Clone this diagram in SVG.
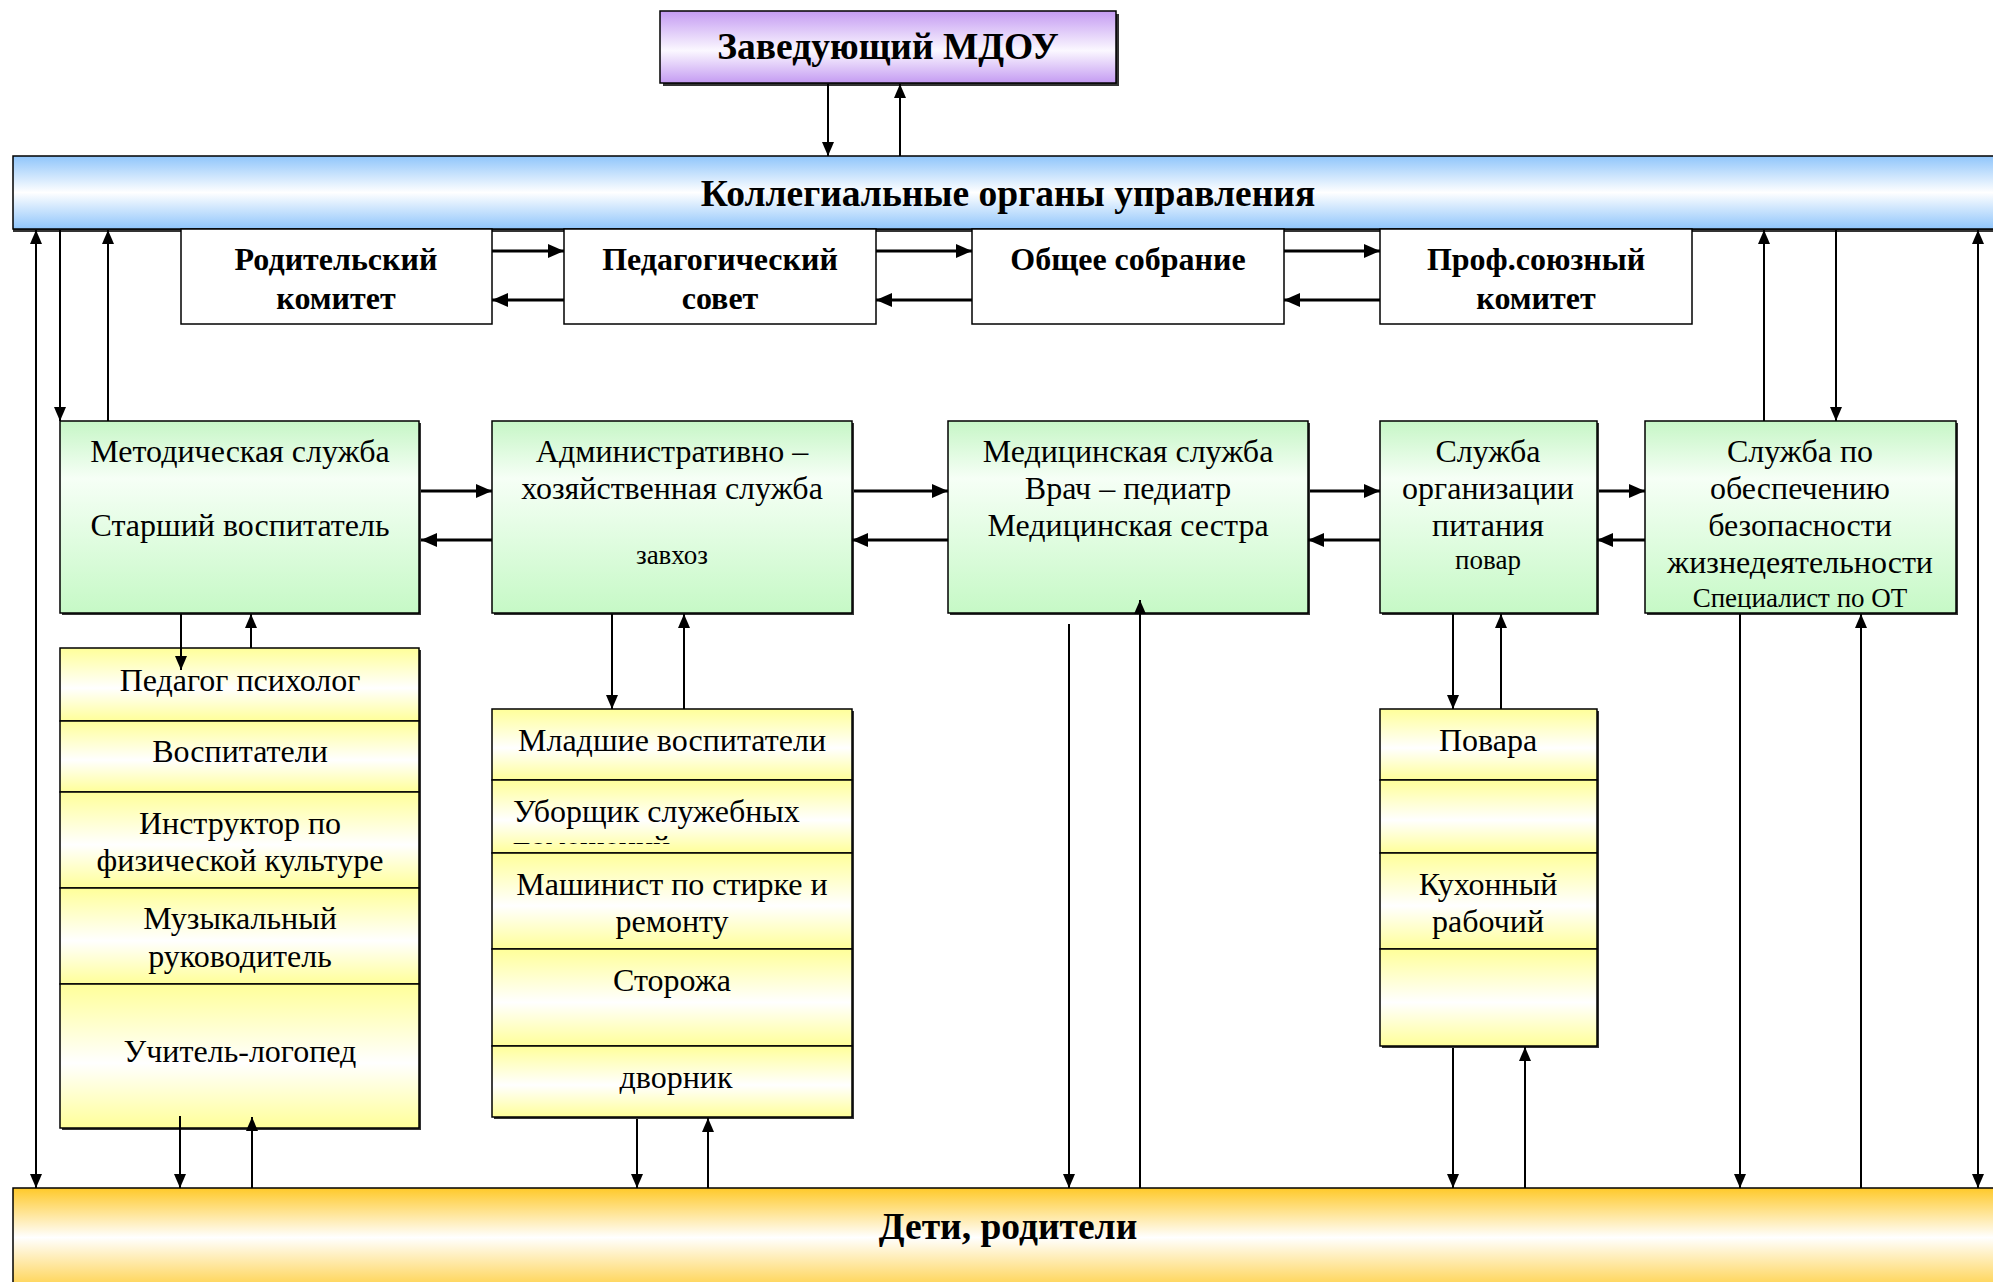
<svg xmlns="http://www.w3.org/2000/svg" width="1993" height="1282" viewBox="0 0 1993 1282">
<defs>
<style>
text{font-family:"Liberation Serif","Times New Roman",serif;fill:#000;text-anchor:middle}
.b{font-weight:bold}
.t36{font-size:37.5px}
.t32{font-size:32px}
.s{font-size:27px}
.box{stroke:#000;stroke-width:1.5}
.sh{fill:#333}
.ln{stroke:#000;stroke-width:2;fill:none}
.lnb{stroke:#000;stroke-width:3;fill:none}
</style>
<linearGradient id="gPurple" x1="0" y1="0" x2="0" y2="1">
<stop offset="0" stop-color="#c49bf2"/><stop offset="0.55" stop-color="#fbf8ff"/><stop offset="1" stop-color="#c49bf2"/>
</linearGradient>
<linearGradient id="gBlue" x1="0" y1="0" x2="0" y2="1">
<stop offset="0" stop-color="#8fc5fb"/><stop offset="0.5" stop-color="#ffffff"/><stop offset="1" stop-color="#8fc5fb"/>
</linearGradient>
<linearGradient id="gGreen" x1="0" y1="0" x2="0" y2="1">
<stop offset="0" stop-color="#c6f6c6"/><stop offset="0.3" stop-color="#f6fff6"/><stop offset="1" stop-color="#c6f9c6"/>
</linearGradient>
<linearGradient id="gYellow" x1="0" y1="0" x2="0" y2="1">
<stop offset="0" stop-color="#ffff99"/><stop offset="0.55" stop-color="#ffffff"/><stop offset="1" stop-color="#ffff99"/>
</linearGradient>
<linearGradient id="gOrange" x1="0" y1="0" x2="0" y2="1">
<stop offset="0" stop-color="#ffc929"/><stop offset="0.45" stop-color="#ffffff"/><stop offset="1" stop-color="#ffc929"/>
</linearGradient>
<marker id="ah" viewBox="0 0 14 12" refX="14" refY="6" markerWidth="14" markerHeight="12" markerUnits="userSpaceOnUse" orient="auto-start-reverse">
<path d="M0,0 L14,6 L0,12 z" fill="#000"/>
</marker>
<marker id="ahb" viewBox="0 0 16 14" refX="16" refY="7" markerWidth="16" markerHeight="14" markerUnits="userSpaceOnUse" orient="auto-start-reverse">
<path d="M0,0 L16,7 L0,14 z" fill="#000"/>
</marker>
<clipPath id="clipOT"><rect x="1645" y="580" width="311" height="29"/></clipPath>
<clipPath id="clipPom"><rect x="492" y="820" width="360" height="24"/></clipPath>
</defs>
<rect width="1993" height="1282" fill="#fff"/>

<g id="zaveduyushchiy">
<rect class="sh" x="663" y="14" width="456" height="72"/>
<rect class="box" x="660" y="11" width="456" height="72" fill="url(#gPurple)"/>
<text class="b t36" x="888" y="59">Заведующий МДОУ</text>
</g>

<g id="kollegialnye">
<rect class="sh" x="13" y="159" width="1990" height="73"/>
<rect class="box" x="13" y="156" width="1990" height="73" fill="url(#gBlue)"/>
<text class="b t36" x="1008" y="206">Коллегиальные органы управления</text>
</g>

<g id="roditelskiy">
<rect class="box" x="181" y="229" width="311" height="95" fill="#fff"/>
<text class="b t32" x="336" y="270">Родительский</text>
<text class="b t32" x="336" y="309">комитет</text>
</g>
<g id="pedsovet">
<rect class="box" x="564" y="229" width="312" height="95" fill="#fff"/>
<text class="b t32" x="720" y="270">Педагогический</text>
<text class="b t32" x="720" y="309">совет</text>
</g>
<g id="obshchee">
<rect class="box" x="972" y="229" width="312" height="95" fill="#fff"/>
<text class="b t32" x="1128" y="270">Общее собрание</text>
</g>
<g id="profsoyuz">
<rect class="box" x="1380" y="229" width="312" height="95" fill="#fff"/>
<text class="b t32" x="1536" y="270">Проф.союзный</text>
<text class="b t32" x="1536" y="309">комитет</text>
</g>

<g id="metodicheskaya">
<rect class="sh" x="62" y="423" width="359" height="192"/>
<rect class="box" x="60" y="421" width="359" height="192" fill="url(#gGreen)"/>
<text class="t32" x="240" y="462">Методическая служба</text>
<text class="t32" x="240" y="536">Старший воспитатель</text>
</g>
<g id="administrativno">
<rect class="sh" x="494" y="423" width="360" height="192"/>
<rect class="box" x="492" y="421" width="360" height="192" fill="url(#gGreen)"/>
<text class="t32" x="672" y="462">Административно –</text>
<text class="t32" x="672" y="499">хозяйственная служба</text>
<text class="s" x="672" y="564">завхоз</text>
</g>
<g id="medicinskaya">
<rect class="sh" x="950" y="423" width="360" height="192"/>
<rect class="box" x="948" y="421" width="360" height="192" fill="url(#gGreen)"/>
<text class="t32" x="1128" y="462">Медицинская служба</text>
<text class="t32" x="1128" y="499">Врач – педиатр</text>
<text class="t32" x="1128" y="536">Медицинская сестра</text>
</g>
<g id="pitanie">
<rect class="sh" x="1382" y="423" width="217" height="192"/>
<rect class="box" x="1380" y="421" width="217" height="192" fill="url(#gGreen)"/>
<text class="t32" x="1488" y="462">Служба</text>
<text class="t32" x="1488" y="499">организации</text>
<text class="t32" x="1488" y="536">питания</text>
<text class="s" x="1488" y="569">повар</text>
</g>
<g id="bezopasnost">
<rect class="sh" x="1647" y="423" width="311" height="192"/>
<rect class="box" x="1645" y="421" width="311" height="192" fill="url(#gGreen)"/>
<text class="t32" x="1800" y="462">Служба по</text>
<text class="t32" x="1800" y="499">обеспечению</text>
<text class="t32" x="1800" y="536">безопасности</text>
<text class="t32" x="1800" y="573">жизнедеятельности</text>
<text class="s" x="1800" y="607" clip-path="url(#clipOT)">Специалист по ОТ</text>
</g>

<g id="col-left">
<rect class="sh" x="62" y="650" width="359" height="480"/>
<rect class="box" x="60" y="648" width="359" height="73" fill="url(#gYellow)"/>
<rect class="box" x="60" y="721" width="359" height="71" fill="url(#gYellow)"/>
<rect class="box" x="60" y="792" width="359" height="96" fill="url(#gYellow)"/>
<rect class="box" x="60" y="888" width="359" height="96" fill="url(#gYellow)"/>
<rect class="box" x="60" y="984" width="359" height="144" fill="url(#gYellow)"/>
<text class="t32" x="240" y="691">Педагог психолог</text>
<text class="t32" x="240" y="762">Воспитатели</text>
<text class="t32" x="240" y="834">Инструктор по</text>
<text class="t32" x="240" y="871">физической культуре</text>
<text class="t32" x="240" y="929">Музыкальный</text>
<text class="t32" x="240" y="967">руководитель</text>
<text class="t32" x="240" y="1062">Учитель-логопед</text>
</g>

<g id="col-middle">
<rect class="sh" x="494" y="711" width="360" height="408"/>
<rect class="box" x="492" y="709" width="360" height="71" fill="url(#gYellow)"/>
<rect class="box" x="492" y="780" width="360" height="73" fill="url(#gYellow)"/>
<rect class="box" x="492" y="853" width="360" height="96" fill="url(#gYellow)"/>
<rect class="box" x="492" y="949" width="360" height="97" fill="url(#gYellow)"/>
<rect class="box" x="492" y="1046" width="360" height="71" fill="url(#gYellow)"/>
<text class="t32" x="672" y="751">Младшие воспитатели</text>
<text class="t32" x="513" y="822" style="text-anchor:start">Уборщик служебных</text>
<text class="t32" x="513" y="858" style="text-anchor:start" clip-path="url(#clipPom)">помещений</text>
<text class="t32" x="672" y="895">Машинист по стирке и</text>
<text class="t32" x="672" y="932">ремонту</text>
<text class="t32" x="672" y="991">Сторожа</text>
<text class="t32" x="676" y="1088">дворник</text>
</g>

<g id="col-right">
<rect class="sh" x="1382" y="711" width="217" height="337"/>
<rect class="box" x="1380" y="709" width="217" height="71" fill="url(#gYellow)"/>
<rect class="box" x="1380" y="780" width="217" height="73" fill="url(#gYellow)"/>
<rect class="box" x="1380" y="853" width="217" height="96" fill="url(#gYellow)"/>
<rect class="box" x="1380" y="949" width="217" height="97" fill="url(#gYellow)"/>
<text class="t32" x="1488" y="751">Повара</text>
<text class="t32" x="1488" y="895">Кухонный</text>
<text class="t32" x="1488" y="932">рабочий</text>
</g>

<g id="deti">
<rect class="box" x="13" y="1188" width="1990" height="110" fill="url(#gOrange)"/>
<text class="b t36" x="1008" y="1239">Дети, родители</text>
</g>

<g id="connectors">
<line class="ln" x1="828" y1="84" x2="828" y2="156" marker-end="url(#ah)"/>
<line class="ln" x1="900" y1="156" x2="900" y2="84" marker-end="url(#ah)"/>
<line class="ln" x1="36" y1="230" x2="36" y2="1188" marker-start="url(#ah)" marker-end="url(#ah)"/>
<line class="ln" x1="60" y1="230" x2="60" y2="421" marker-end="url(#ah)"/>
<line class="ln" x1="108" y1="421" x2="108" y2="230" marker-end="url(#ah)"/>
<line class="ln" x1="1764" y1="421" x2="1764" y2="230" marker-end="url(#ah)"/>
<line class="ln" x1="1836" y1="230" x2="1836" y2="421" marker-end="url(#ah)"/>
<line class="ln" x1="1978" y1="230" x2="1978" y2="1188" marker-start="url(#ah)" marker-end="url(#ah)"/>
<line class="lnb" x1="492" y1="251" x2="564" y2="251" marker-end="url(#ahb)"/>
<line class="lnb" x1="564" y1="300" x2="492" y2="300" marker-end="url(#ahb)"/>
<line class="lnb" x1="876" y1="251" x2="972" y2="251" marker-end="url(#ahb)"/>
<line class="lnb" x1="972" y1="300" x2="876" y2="300" marker-end="url(#ahb)"/>
<line class="lnb" x1="1284" y1="251" x2="1380" y2="251" marker-end="url(#ahb)"/>
<line class="lnb" x1="1380" y1="300" x2="1284" y2="300" marker-end="url(#ahb)"/>
<line class="lnb" x1="421" y1="491" x2="492" y2="491" marker-end="url(#ahb)"/>
<line class="lnb" x1="492" y1="540" x2="421" y2="540" marker-end="url(#ahb)"/>
<line class="lnb" x1="854" y1="491" x2="948" y2="491" marker-end="url(#ahb)"/>
<line class="lnb" x1="948" y1="540" x2="852" y2="540" marker-end="url(#ahb)"/>
<line class="lnb" x1="1310" y1="491" x2="1380" y2="491" marker-end="url(#ahb)"/>
<line class="lnb" x1="1380" y1="540" x2="1308" y2="540" marker-end="url(#ahb)"/>
<line class="lnb" x1="1599" y1="491" x2="1645" y2="491" marker-end="url(#ahb)"/>
<line class="lnb" x1="1645" y1="540" x2="1597" y2="540" marker-end="url(#ahb)"/>
<line class="ln" x1="181" y1="614" x2="181" y2="670" marker-end="url(#ah)"/>
<line class="ln" x1="251" y1="648" x2="251" y2="614" marker-end="url(#ah)"/>
<line class="ln" x1="612" y1="614" x2="612" y2="709" marker-end="url(#ah)"/>
<line class="ln" x1="684" y1="709" x2="684" y2="614" marker-end="url(#ah)"/>
<line class="ln" x1="1453" y1="614" x2="1453" y2="709" marker-end="url(#ah)"/>
<line class="ln" x1="1501" y1="709" x2="1501" y2="614" marker-end="url(#ah)"/>
<line class="ln" x1="1069" y1="624" x2="1069" y2="1188" marker-end="url(#ah)"/>
<line class="ln" x1="1140" y1="1188" x2="1140" y2="600" marker-end="url(#ah)"/>
<line class="ln" x1="1740" y1="614" x2="1740" y2="1188" marker-end="url(#ah)"/>
<line class="ln" x1="1861" y1="1188" x2="1861" y2="614" marker-end="url(#ah)"/>
<line class="ln" x1="1453" y1="1048" x2="1453" y2="1188" marker-end="url(#ah)"/>
<line class="ln" x1="1525" y1="1188" x2="1525" y2="1047" marker-end="url(#ah)"/>
<line class="ln" x1="180" y1="1116" x2="180" y2="1188" marker-end="url(#ah)"/>
<line class="ln" x1="252" y1="1188" x2="252" y2="1117" marker-end="url(#ah)"/>
<line class="ln" x1="637" y1="1119" x2="637" y2="1188" marker-end="url(#ah)"/>
<line class="ln" x1="708" y1="1188" x2="708" y2="1118" marker-end="url(#ah)"/>
</g>
</svg>
